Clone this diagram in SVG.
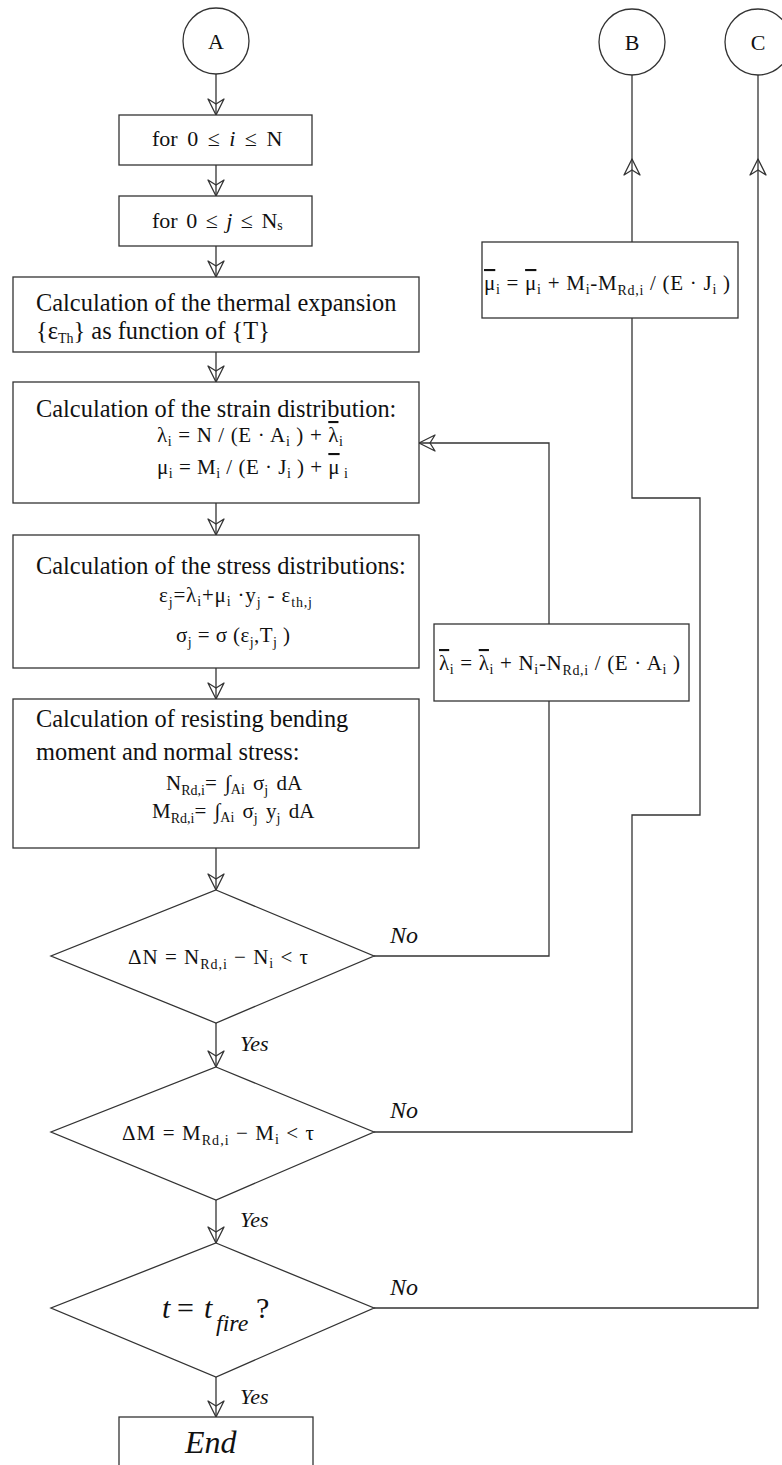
<svg xmlns="http://www.w3.org/2000/svg" width="782" height="1465" viewBox="0 0 782 1465">
  <style>
    .shape { fill: #fff; stroke: #333; stroke-width: 1.3; }
    .wire { fill: none; stroke: #333; stroke-width: 1.3; }
    text { font-family: "Liberation Serif", "Times New Roman", serif; fill: #111; }
    .big { font-size: 24.4px; }
    .f { font-size: 21px; }
    .lbl { font-size: 22px; font-style: italic; }
    .no { font-size: 24px; font-style: italic; }
    .sub { font-size: 14px; }
    .bar { text-decoration: overline; }
  </style>
  <defs>
    <marker id="arr" markerUnits="userSpaceOnUse" markerWidth="20" markerHeight="20" viewBox="-18 -10 20 20" refX="0" refY="0" orient="auto">
      <path d="M-16,-8 L0,0 L-16,8 L-11,0 Z" fill="none" stroke="#333" stroke-width="1.3" stroke-linejoin="round"/>
    </marker>
  </defs>

  <!-- connectors -->
  <g id="connectors">
    <line class="wire" x1="216" y1="74" x2="216" y2="115" marker-end="url(#arr)"/>
    <line class="wire" x1="216" y1="165" x2="216" y2="196" marker-end="url(#arr)"/>
    <line class="wire" x1="216" y1="246" x2="216" y2="277" marker-end="url(#arr)"/>
    <line class="wire" x1="216" y1="352" x2="216" y2="382" marker-end="url(#arr)"/>
    <line class="wire" x1="216" y1="503" x2="216" y2="535" marker-end="url(#arr)"/>
    <line class="wire" x1="216" y1="668" x2="216" y2="699" marker-end="url(#arr)"/>
    <line class="wire" x1="216" y1="848" x2="216" y2="890" marker-end="url(#arr)"/>
    <line class="wire" x1="216" y1="1023" x2="216" y2="1067" marker-end="url(#arr)"/>
    <line class="wire" x1="216" y1="1200" x2="216" y2="1243" marker-end="url(#arr)"/>
    <line class="wire" x1="216" y1="1377" x2="216" y2="1417" marker-end="url(#arr)"/>
    <!-- ΔN not satisfied: update λ and return to strain step -->
    <polyline class="wire" points="374,956 549,956 549,701"/>
    <polyline class="wire" points="549,624 549,443 419,443" marker-end="url(#arr)"/>
    <!-- ΔM not satisfied: update μ and go to B -->
    <polyline class="wire" points="374,1132 632,1132 632,815 700,815 700,498 632,498 632,318"/>
    <line class="wire" x1="632" y1="242" x2="632" y2="159" marker-end="url(#arr)"/>
    <line class="wire" x1="632" y1="160" x2="632" y2="75"/>
    <!-- time step not finished: go to C -->
    <polyline class="wire" points="374,1308 758,1308 758,159" marker-end="url(#arr)"/>
    <line class="wire" x1="758" y1="160" x2="758" y2="75"/>
  </g>

  <g id="nodeA">
    <circle class="shape" cx="216" cy="41" r="33"/>
    <text x="216" y="49" font-size="22" text-anchor="middle">A</text>
  </g>
  <g id="nodeB">
    <circle class="shape" cx="632" cy="42" r="33"/>
    <text x="632" y="50" font-size="22" text-anchor="middle">B</text>
  </g>
  <g id="nodeC">
    <circle class="shape" cx="758" cy="42" r="33"/>
    <text x="758" y="50" font-size="22" text-anchor="middle">C</text>
  </g>

  <g id="loop-i">
    <rect class="shape" x="119" y="115" width="193" height="50"/>
    <text x="152" y="146" font-size="22" word-spacing="4">for 0 ≤ <tspan font-style="italic">i</tspan> ≤ N</text>
  </g>
  <g id="loop-j">
    <rect class="shape" x="119" y="196" width="193" height="50"/>
    <text x="152" y="228" font-size="22" word-spacing="3">for 0 ≤ <tspan font-style="italic">j</tspan> ≤ N<tspan class="sub" dy="2">s</tspan></text>
  </g>

  <g id="thermal">
    <rect class="shape" x="13" y="277" width="406" height="75"/>
    <text class="big" x="36" y="311">Calculation of the thermal expansion</text>
    <text class="big" x="36" y="339">{ε<tspan class="sub" dy="4">Th</tspan><tspan dy="-4">} as function of {T}</tspan></text>
  </g>

  <g id="strain">
    <rect class="shape" x="13" y="382" width="406" height="121"/>
    <text class="big" x="36" y="417">Calculation of the strain distribution:</text>
    <text class="f" x="157" y="442" textLength="186" lengthAdjust="spacing">λ<tspan class="sub" dy="4">i</tspan><tspan dy="-4"> = N / (E · A</tspan><tspan class="sub" dy="4">i</tspan><tspan dy="-4"> ) + </tspan><tspan class="bar">λ</tspan><tspan class="sub" dy="4">i</tspan></text>
    <text class="f" x="157" y="474" textLength="191" lengthAdjust="spacing">μ<tspan class="sub" dy="4">i</tspan><tspan dy="-4"> = M</tspan><tspan class="sub" dy="4">i</tspan><tspan dy="-4"> / (E · J</tspan><tspan class="sub" dy="4">i</tspan><tspan dy="-4"> ) + </tspan><tspan class="bar">μ</tspan><tspan class="sub" dy="4"> i</tspan></text>
  </g>

  <g id="stress">
    <rect class="shape" x="13" y="535" width="406" height="133"/>
    <text class="big" x="36" y="574">Calculation of the stress distributions:</text>
    <text class="f" x="159" y="602" textLength="153" lengthAdjust="spacing">ε<tspan class="sub" dy="5">j</tspan><tspan dy="-5">=λ</tspan><tspan class="sub" dy="4">i</tspan><tspan dy="-4">+μ</tspan><tspan class="sub" dy="4">i</tspan><tspan dy="-4">  ·y</tspan><tspan class="sub" dy="5">j</tspan><tspan dy="-5"> - ε</tspan><tspan class="sub" dy="5">th,j</tspan></text>
    <text class="f" x="176" y="642" textLength="114" lengthAdjust="spacing">σ<tspan class="sub" dy="5">j</tspan><tspan dy="-5"> = σ (ε</tspan><tspan class="sub" dy="5">j</tspan><tspan dy="-5">,T</tspan><tspan class="sub" dy="5">j</tspan><tspan dy="-5"> )</tspan></text>
  </g>

  <g id="resisting">
    <rect class="shape" x="13" y="699" width="406" height="149"/>
    <text class="big" x="36" y="727">Calculation of resisting bending</text>
    <text class="big" x="36" y="760">moment and normal stress:</text>
    <text class="f" x="166" y="790" word-spacing="3">N<tspan class="sub" dy="5">Rd,i</tspan><tspan dy="-5">= ∫</tspan><tspan class="sub" dy="4">Ai</tspan><tspan dy="-4"> σ</tspan><tspan class="sub" dy="5">j</tspan><tspan dy="-5"> dA</tspan></text>
    <text class="f" x="152" y="818" word-spacing="3">M<tspan class="sub" dy="5">Rd,i</tspan><tspan dy="-5">= ∫</tspan><tspan class="sub" dy="4">Ai</tspan><tspan dy="-4"> σ</tspan><tspan class="sub" dy="5">j</tspan><tspan dy="-5">  y</tspan><tspan class="sub" dy="5">j</tspan><tspan dy="-5"> dA</tspan></text>
  </g>

  <g id="checkN">
    <polygon class="shape" points="216,890 374,956 216,1023 51,956"/>
    <text class="f" x="128" y="964" textLength="180" lengthAdjust="spacing">ΔN = N<tspan class="sub" dy="5">Rd,i</tspan><tspan dy="-5"> − N</tspan><tspan class="sub" dy="4">i</tspan><tspan dy="-4"> &lt; τ</tspan></text>
    <text class="no" x="390" y="943">No</text>
    <text class="lbl" x="240" y="1051">Yes</text>
  </g>

  <g id="checkM">
    <polygon class="shape" points="216,1067 374,1132 216,1200 51,1132"/>
    <text class="f" x="122" y="1140" textLength="192" lengthAdjust="spacing">ΔM = M<tspan class="sub" dy="5">Rd,i</tspan><tspan dy="-5"> − M</tspan><tspan class="sub" dy="4">i</tspan><tspan dy="-4"> &lt; τ</tspan></text>
    <text class="no" x="390" y="1118">No</text>
    <text class="lbl" x="240" y="1227">Yes</text>
  </g>

  <g id="checkTime">
    <polygon class="shape" points="216,1243 374,1308 216,1377 51,1308"/>
    <text y="1318" font-size="30" font-style="italic"><tspan x="162">t</tspan><tspan x="177" font-style="normal">=</tspan><tspan x="204">t</tspan><tspan x="216" font-size="24" dy="13">fire</tspan><tspan x="256" font-style="normal" dy="-13">?</tspan></text>
    <text class="no" x="390" y="1295">No</text>
    <text class="lbl" x="240" y="1404">Yes</text>
  </g>

  <g id="end">
    <rect class="shape" x="119" y="1417" width="194" height="60"/>
    <text x="185" y="1453" font-size="32" font-style="italic">End</text>
  </g>

  <g id="updateMu">
    <rect class="shape" x="482" y="242" width="256" height="76"/>
    <text class="f" x="484" y="290" textLength="246" lengthAdjust="spacing"><tspan class="bar">μ</tspan><tspan class="sub" dy="4">i</tspan><tspan dy="-4"> = </tspan><tspan class="bar">μ</tspan><tspan class="sub" dy="4">i</tspan><tspan dy="-4"> + M</tspan><tspan class="sub" dy="4">i</tspan><tspan dy="-4">-M</tspan><tspan class="sub" dy="5">Rd,i</tspan><tspan dy="-5"> / (E · J</tspan><tspan class="sub" dy="4">i</tspan><tspan dy="-4"> )</tspan></text>
  </g>

  <g id="updateLambda">
    <rect class="shape" x="434" y="624" width="255" height="77"/>
    <text class="f" x="439" y="670" textLength="241" lengthAdjust="spacing"><tspan class="bar">λ</tspan><tspan class="sub" dy="4">i</tspan><tspan dy="-4"> = </tspan><tspan class="bar">λ</tspan><tspan class="sub" dy="4">i</tspan><tspan dy="-4"> + N</tspan><tspan class="sub" dy="4">i</tspan><tspan dy="-4">-N</tspan><tspan class="sub" dy="5">Rd,i</tspan><tspan dy="-5"> / (E · A</tspan><tspan class="sub" dy="4">i</tspan><tspan dy="-4"> )</tspan></text>
  </g>
</svg>
